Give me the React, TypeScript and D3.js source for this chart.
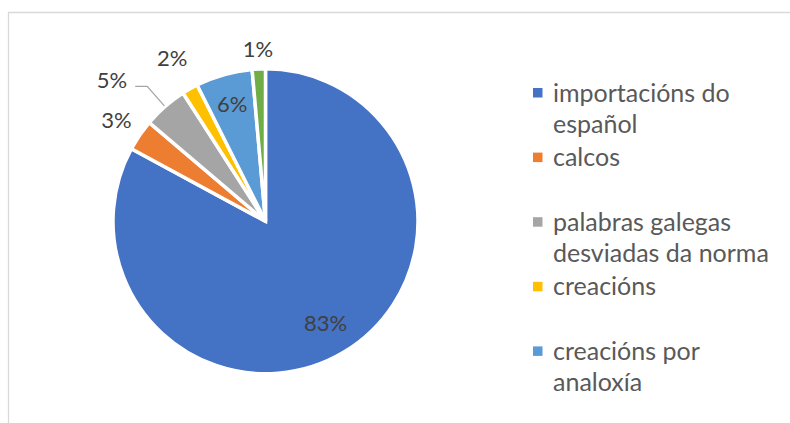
import React from "react";
import * as d3 from "d3";

const categories = [
  "importacións do español",
  "calcos",
  "palabras galegas desviadas da norma",
  "creacións",
  "creacións por analoxía",
  "outros",
];
const values = [82.9, 3.3, 4.7, 1.7, 6.0, 1.4];
const colors = ["#4472C4", "#ED7D31", "#A5A5A5", "#FFC000", "#5B9BD5", "#70AD47"];
const legendLines = [
  ["importacións do", "español"],
  ["calcos"],
  ["palabras galegas", "desviadas da norma"],
  ["creacións"],
  ["creacións por", "analoxía"],
];

const W = 790;
const H = 423;
const CX = 265.5;
const CY = 221.3;
const R = 152.5;
const FONT = "Lato, 'Open Sans', sans-serif";

const labelPlacement = [
  { mode: "in", k: 0.77 },
  { mode: "out", k: 28 },
  { mode: "leader", k: 27 },
  { mode: "out", k: 36 },
  { mode: "in", k: 0.8 },
  { mode: "out", k: 20 },
];

export default function App() {
  const pie = d3.pie<number>().sort(null).value((d) => d)(values);
  const arc = d3.arc<d3.PieArcDatum<number>>().innerRadius(0).outerRadius(R);
  const total = d3.sum(values);
  const pct = (v: number) => `${Math.round((v / total) * 100)}%`;
  const polar = (a: number, rr: number) => [CX + rr * Math.sin(a), CY - rr * Math.cos(a)];

  const legendX = 533;
  const legendY0 = 101.5;
  const slot = 64.6;
  const lineH = 31.5;

  return (
    <svg
      width={W}
      height={H}
      style={{ position: "absolute", left: 0, top: 0, display: "block" }}
    >
      <rect x={0} y={0} width={W} height={H} fill="#fff" />
      <path d={`M8.5,${H} V12.5 H${W}`} fill="none" stroke="#d9d9d9" strokeWidth={1.3} />
      <g>
        {pie.map((p, i) => (
          <path
            key={i}
            d={arc(p) as string}
            transform={`translate(${CX},${CY})`}
            fill={colors[i]}
            stroke="#fff"
            strokeWidth={3.5}
            strokeLinejoin="miter"
          />
        ))}
      </g>
      <g fontFamily={FONT} fontSize={22} fill="#404040">
        {pie.map((p, i) => {
          const mid = (p.startAngle + p.endAngle) / 2;
          const pl = labelPlacement[i];
          const label = pct(p.value);
          if (pl.mode === "in" || pl.mode === "out") {
            const rr = pl.mode === "in" ? R * pl.k : R + pl.k;
            const [x, y] = polar(mid, rr);
            return (
              <text key={i} x={x} y={y} textAnchor="middle" dominantBaseline="central">
                {label}
              </text>
            );
          }
          const [sx, sy] = polar(mid, R + 1);
          const [ex, ey] = polar(mid, R + pl.k);
          return (
            <g key={i}>
              <path
                d={`M${sx},${sy} L${ex},${ey} H${ex - 12}`}
                fill="none"
                stroke="#a6a6a6"
                strokeWidth={1.3}
              />
              <text x={ex - 20} y={ey - 7} textAnchor="end" dominantBaseline="central">
                {label}
              </text>
            </g>
          );
        })}
      </g>
      <g fontFamily={FONT} fontSize={25} fill="#595959">
        {legendLines.map((lines, i) => {
          const by = legendY0 + i * slot;
          return (
            <g key={i}>
              <rect x={legendX} y={by - 13.5} width={9.5} height={9.5} fill={colors[i]} />
              {lines.map((t, j) => (
                <text key={j} x={legendX + 20} y={by + j * lineH}>
                  {t}
                </text>
              ))}
            </g>
          );
        })}
      </g>
    </svg>
  );
}
